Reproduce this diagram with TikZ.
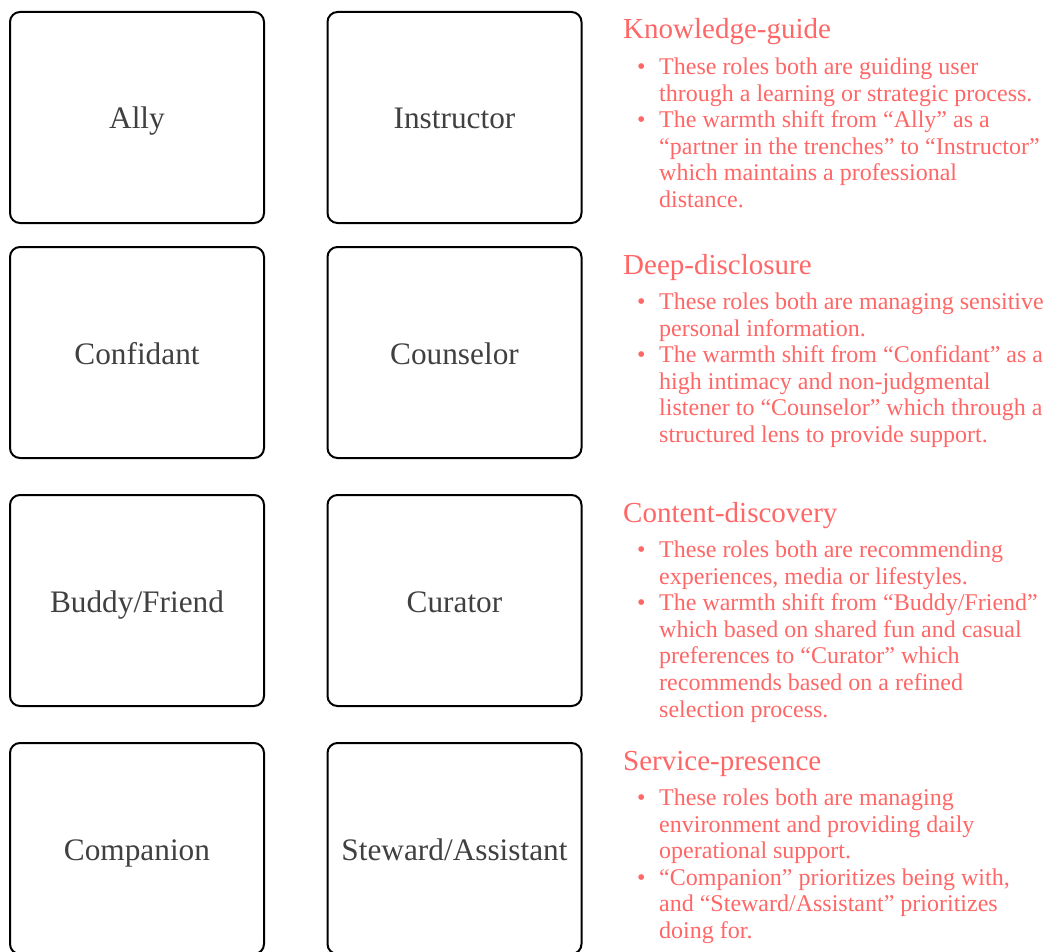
\documentclass[tikz,border=0pt]{standalone}
\usepackage{fontspec}
\setmainfont{Liberation Serif}
\definecolor{rolegray}{HTML}{404040}
\definecolor{notered}{HTML}{FF6666}
\tikzset{
  rolebox/.style={draw=black, line width=2pt, rounded corners=10pt,
    minimum width=254pt, minimum height=211pt, inner sep=0pt,
    text height=29pt, text depth=6pt,
    text=rolegray, font=\fontsize{31.3}{36}\selectfont},
  grouptitle/.style={anchor=base west, inner sep=0pt, text=notered,
    font=\fontsize{29}{33}\selectfont},
  notes/.style={anchor=base west, inner sep=0pt, text=notered,
    font=\fontsize{24}{26.6}\selectfont}
}
\newcommand{\bul}{\makebox[22pt][l]{\textbullet}}
\newcommand{\ind}{\hspace*{22pt}}
\begin{document}
\begin{tikzpicture}[x=1pt, y=-1pt]
\useasboundingbox (0,0) rectangle (1046,952);

% role pairs
\node[rolebox] (ally)   at (137,117.5) {Ally};
\node[rolebox] (instr)  at (454.5,117.5) {Instructor};
\node[rolebox] (conf)   at (137,352.5) {Confidant};
\node[rolebox] (couns)  at (454.5,352.5) {Counselor};
\node[rolebox] (buddy)  at (137,600.5) {Buddy/Friend};
\node[rolebox] (cur)    at (454.5,600.5) {Curator};
\node[rolebox] (comp)   at (137,848.5) {Companion};
\node[rolebox] (stew)   at (454.5,848.5) {Steward/Assistant};

% group notes
\node[grouptitle] (t1) at (623,39) {Knowledge-guide};
\node[notes] (n1) at (637,74.5) {\begin{tabular}[t]{@{}l@{}}
\bul These roles both are guiding user\\
\ind through a learning or strategic process.\\
\bul The warmth shift from ``Ally'' as a\\
\ind ``partner in the trenches'' to ``Instructor''\\
\ind which maintains a professional\\
\ind distance.
\end{tabular}};

\node[grouptitle] (t2) at (623,274) {Deep-disclosure};
\node[notes] (n2) at (637,309.5) {\begin{tabular}[t]{@{}l@{}}
\bul These roles both are managing sensitive\\
\ind personal information.\\
\bul The warmth shift from ``Confidant'' as a\\
\ind high intimacy and non-judgmental\\
\ind listener to ``Counselor'' which through a\\
\ind structured lens to provide support.
\end{tabular}};

\node[grouptitle] (t3) at (623,522) {Content-discovery};
\node[notes] (n3) at (637,557.5) {\begin{tabular}[t]{@{}l@{}}
\bul These roles both are recommending\\
\ind experiences, media or lifestyles.\\
\bul The warmth shift from ``Buddy/Friend''\\
\ind which based on shared fun and casual\\
\ind preferences to ``Curator'' which\\
\ind recommends based on a refined\\
\ind selection process.
\end{tabular}};

\node[grouptitle] (t4) at (623,770) {Service-presence};
\node[notes] (n4) at (637,805.5) {\begin{tabular}[t]{@{}l@{}}
\bul These roles both are managing\\
\ind environment and providing daily\\
\ind operational support.\\
\bul ``Companion'' prioritizes being with,\\
\ind and ``Steward/Assistant'' prioritizes\\
\ind doing for.
\end{tabular}};
\end{tikzpicture}
\end{document}
